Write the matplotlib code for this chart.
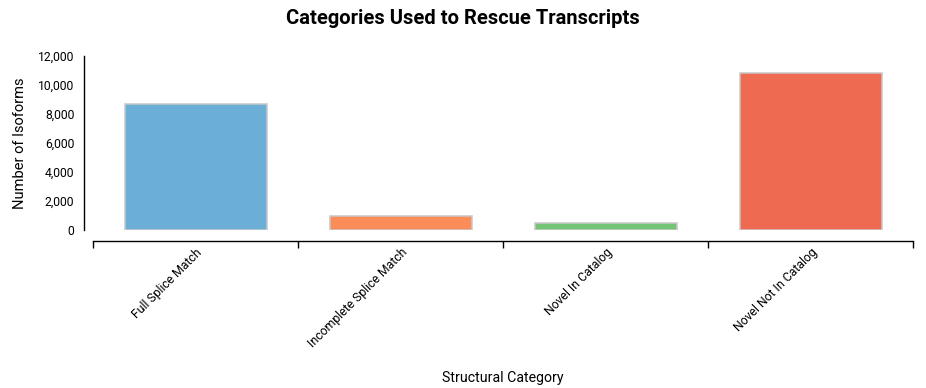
import matplotlib
matplotlib.use("Agg")
import matplotlib.pyplot as plt
import numpy as np

categories = ["Full Splice Match", "Incomplete Splice Match", "Novel In Catalog", "Novel Not In Catalog"]
values = [8690, 970, 480, 10830]
colors = ["#6baed6", "#fc8d59", "#74c476", "#ee6a50"]
yticks = [0, 2000, 4000, 6000, 8000, 10000, 12000]

plt.rcParams['font.family'] = ['Roboto', 'DejaVu Sans']

W, H = 926, 388
fig = plt.figure(figsize=(W/100, H/100), dpi=100)
left, right, top, bottom = 93, 913, 56, 230
ax = fig.add_axes([left/W, 1 - bottom/H, (right-left)/W, (bottom-top)/H])

x = np.arange(len(categories))
ax.bar(x, values, width=142/205, color=colors, edgecolor="#c8c8c8", linewidth=1.1, zorder=2)

ax.set_xlim(-0.5, len(categories) - 0.5)
ax.set_ylim(0, 12000)

for s in ["top", "right"]:
    ax.spines[s].set_visible(False)
ax.spines["left"].set_position(("outward", 9*0.72))
ax.spines["left"].set_bounds(0, 12000)
ax.spines["bottom"].set_position(("outward", 11*0.72))
ax.spines["left"].set_linewidth(1.0)
ax.spines["bottom"].set_linewidth(1.0)

ax.set_yticks(yticks)
ax.set_yticklabels([f"{v:,}" for v in yticks])
ax.tick_params(axis="y", length=0, pad=7, labelsize=8.7)

ax.set_xticks(np.arange(len(categories) + 1) - 0.5)
ax.set_xticklabels([])
ax.tick_params(axis="x", which="major", length=5, width=1, direction="out")
ax.set_xticks(x, minor=True)
ax.set_xticklabels(categories, minor=True, rotation=45, ha="right", va="top",
                   rotation_mode="anchor", fontsize=8.8)
ax.tick_params(axis="x", which="minor", length=0, pad=3.5)

ax.set_ylabel("Number of Isoforms", fontsize=10.5, labelpad=8)
ax.set_xlabel("Structural Category", fontsize=10.2)
ax.xaxis.set_label_coords(0.5, -(371 - bottom) / (bottom - top))

fig.text(0.5, 1 - 19/H, "Categories Used to Rescue Transcripts", ha="center", va="center",
         fontsize=14.5, fontweight="bold")

fig.savefig("out.png", dpi=100)
